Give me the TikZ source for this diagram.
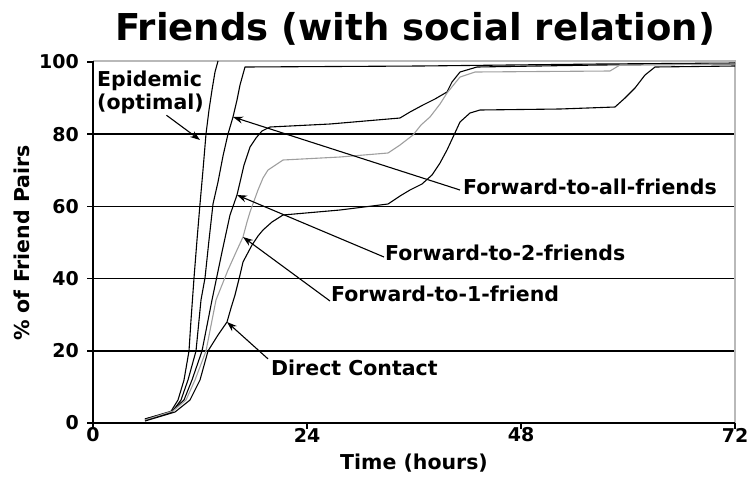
\documentclass[tikz,border=0pt]{standalone}
\usepackage{fontspec}
\setmainfont{DejaVu Sans}
\usetikzlibrary{arrows.meta}

\begin{document}
\begin{tikzpicture}[x=1pt,y=-1pt,>={Stealth[length=10pt,width=7pt]},
		font=\bfseries\fontsize{20.5}{23}\selectfont]
		\tikzstyle{curve}=[black,line width=1.1pt,line join=round]
		\tikzstyle{lightcurve}=[curve,draw=gray!75]
		\tikzstyle{grid}=[black,line width=1.6pt]
		\tikzstyle{frame}=[gray!55,line width=1.3pt]
		\tikzstyle{axis}=[black,line width=1.5pt]
		\tikzstyle{ticklabel}=[inner sep=0pt,font=\bfseries\fontsize{19}{21}\selectfont]
		\tikzstyle{tag}=[inner sep=1pt]
		\tikzstyle{pointer}=[->,black,line width=1.1pt]
		\useasboundingbox (0,0) rectangle (750,491);
		
		% grid, frame, axes
		\foreach \v in {20,40,60,80}
			\draw[grid] (93,{423-3.61*\v}) -- (735,{423-3.61*\v});
		\draw[frame] (93,61) -- (735,61) -- (735,423);
		\draw[axis] (93,61) -- (93,423) -- (735,423);
		\foreach \v in {0,20,...,100}{
			\draw[axis] (87,{423-3.61*\v}) -- (93,{423-3.61*\v});
			\node[ticklabel,anchor=east] (yl\v) at (79,{423-3.61*\v}) {\v};
		}
		\foreach \h in {0,24,48,72}{
			\draw[axis] ({93+8.917*\h},423) -- ({93+8.917*\h},429);
			\node[ticklabel] (xl\h) at ({93+8.917*\h},435) {\h};
		}
		
		% curves
		\draw[curve] (145,420) -- (170,413) -- (178,400) -- (184,380) -- (189,351)
			-- (191,320) -- (194,278) -- (197,240) -- (200,204) -- (203,170)
			-- (206,134) -- (209,110) -- (212,90) -- (215,72) -- (218,61);
		\draw[curve] (145,419) -- (172,412) -- (181,400) -- (188,380) -- (196,351)
			-- (201,300) -- (205,278) -- (209,240) -- (213,204) -- (218,182)
			-- (223,156) -- (228,134) -- (233,117) -- (237,100) -- (240,85)
			-- (245,67) -- (420,66) -- (600,64) -- (735,63);
		\draw[curve] (145,419) -- (172,411) -- (184,400) -- (192,380) -- (202,351)
			-- (212,300) -- (222,252) -- (230,215) -- (237,195) -- (241,178)
			-- (244,165) -- (250,147) -- (256,138) -- (262,131) -- (270,127)
			-- (330,124) -- (400,118) -- (410,112) -- (423,105) -- (435,99)
			-- (447,92) -- (452,82) -- (460,72) -- (477,67) -- (600,65) -- (735,64);
		\draw[lightcurve] (145,420) -- (173,411) -- (186,400) -- (195,380) -- (206,351)
			-- (216,300) -- (228,270) -- (237,250) -- (243,237) -- (247,222)
			-- (250,212) -- (258,190) -- (263,178) -- (268,170) -- (283,160)
			-- (340,157) -- (388,153) -- (400,145) -- (413,135) -- (421,125)
			-- (430,117) -- (440,104) -- (447,93) -- (460,77) -- (475,72)
			-- (610,71) -- (620,65) -- (735,64);
		\draw[curve] (145,421) -- (175,412) -- (190,400) -- (200,380) -- (208,351)
			-- (218,335) -- (227,322) -- (231,308) -- (235,295) -- (240,275)
			-- (243,262) -- (252,245) -- (258,236) -- (263,230) -- (272,222)
			-- (283,215) -- (340,210) -- (388,204) -- (400,196) -- (410,190)
			-- (422,184) -- (432,175) -- (440,163) -- (447,150) -- (454,135)
			-- (460,122) -- (470,113) -- (480,110) -- (560,109) -- (615,107)
			-- (625,98) -- (635,88) -- (645,75) -- (655,67) -- (735,66);
		
		% arrow tips on the curves
		\coordinate (epitip) at (200,140);
		\coordinate (alltip) at (233,117);
		\coordinate (twotip) at (237,195);
		\coordinate (onetip) at (243,237);
		\coordinate (dctip)  at (227,322);
		
		% labels
		\node[font=\bfseries\fontsize{37}{40}\selectfont] (title) at (415,29)
			{Friends (with social relation)};
		\node[rotate=90] (ylab) at (22,243) {\% of Friend Pairs};
		\node (xlab) at (414,463) {Time (hours)};
		
		\node[tag,align=left,anchor=north west] (epi) at (96,70) {Epidemic\\(optimal)};
		\node[tag,anchor=west] (all) at (462,187) {Forward-to-all-friends};
		\node[tag,anchor=west] (two) at (384,253) {Forward-to-2-friends};
		\node[tag,anchor=west] (one) at (330,294) {Forward-to-1-friend};
		\node[tag,anchor=west] (dc)  at (270,368) {Direct Contact};
		
		\draw[pointer] ([xshift=16pt]epi.south) -- (epitip);
		\draw[pointer] ([xshift=-2pt,yshift=-3pt]all.west) -- (alltip);
		\draw[pointer] ([yshift=-4pt]two.west) -- (twotip);
		\draw[pointer] ([yshift=-7pt]one.west) -- (onetip);
		\draw[pointer] ([xshift=-2pt]dc.north west) -- (dctip);
\end{tikzpicture}
\end{document}
